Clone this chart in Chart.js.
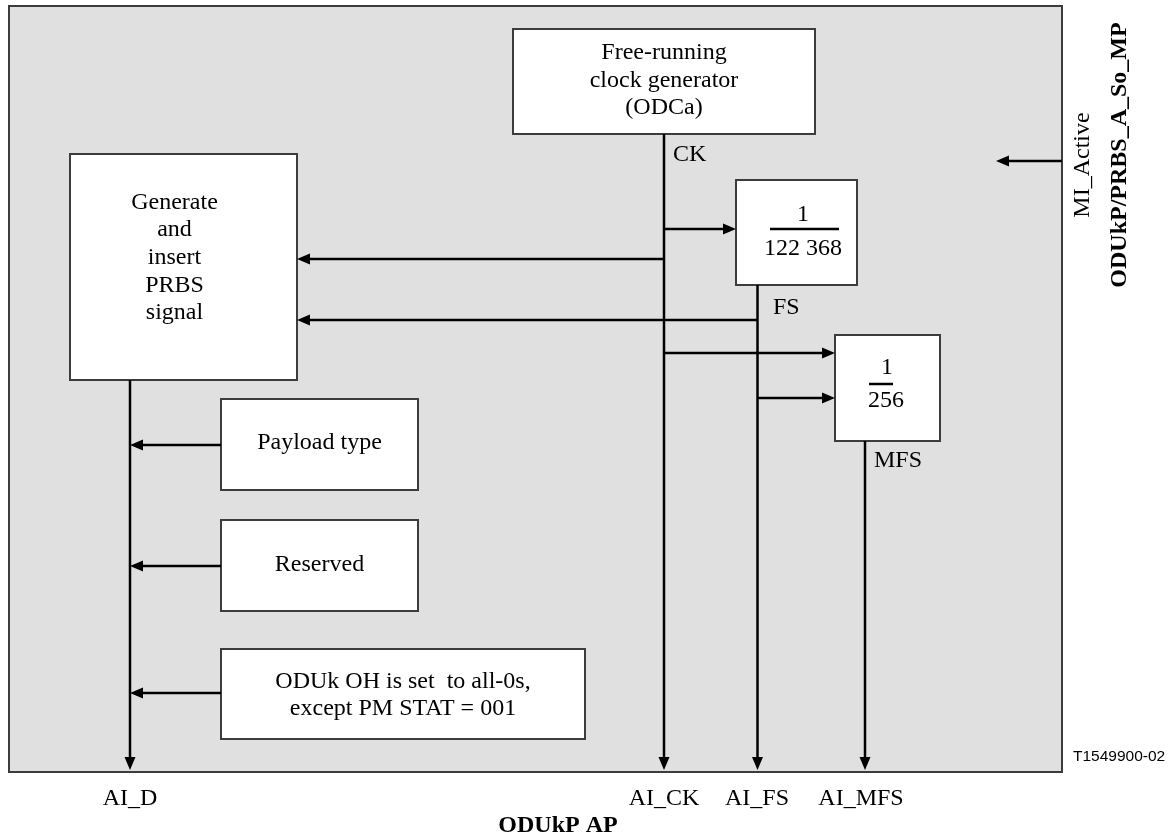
<!DOCTYPE html>
<html>
<head>
<meta charset="utf-8">
<script src="https://cdn.jsdelivr.net/npm/chart.js@4.4.1/dist/chart.umd.min.js"></script>
<style>
  body { margin: 0; background: #fff; }
</style>
</head>
<body>
<canvas id="diagram" width="1173" height="832"></canvas>
<script>
// grey panel of the function (x0, y0, x1, y1 in diagram units)
const panel = [9, 6, 1062, 772];

// blocks inside the panel
const boxRects = [
    [513, 29, 815, 134],   // clock generator
    [70, 154, 297, 380],   // PRBS
    [736, 180, 857, 285],  // 1/122 368
    [835, 335, 940, 441],  // 1/256
    [221, 399, 418, 490],  // payload type
    [221, 520, 418, 611],  // reserved
    [221, 649, 585, 739]   // ODUk OH
];

// signal wires: x0, y0, x1, y1, arrow at end (1) or not (0)
const wires = [
    [664, 134, 664, 770, 1],   // CK
    [664, 229, 736, 229, 1],
    [664, 259, 297, 259, 1],
    [757.5, 285, 757.5, 770, 1], // FS
    [757.5, 320, 297, 320, 1],
    [664, 353, 835, 353, 1],
    [757.5, 398, 835, 398, 1],
    [865, 441, 865, 770, 1],   // MFS
    [130, 380, 130, 770, 1],   // AI_D
    [221, 445, 130, 445, 1],
    [221, 566, 130, 566, 1],
    [221, 693, 130, 693, 1],
    [1062, 161, 996, 161, 1]   // MI_Active
];

// fraction bars in the divider blocks
const bars = [
    [770, 229, 839, 229, 0],
    [869, 384, 893, 384, 0]
];

// texts: string, x, y, bold
const boxTexts = [
    ['Free-running', 664, 53], ['clock generator', 664, 81], ['(ODCa)', 664, 108],
    ['Generate', 174.5, 203], ['and', 174.5, 230], ['insert', 174.5, 258], ['PRBS', 174.5, 286], ['signal', 174.5, 313],
    ['1', 803, 215], ['122 368', 803, 249],
    ['1', 887, 368], ['256', 886, 401],
    ['Payload type', 319.5, 443],
    ['Reserved', 319.5, 565],
    ['ODUk OH is set  to all-0s,', 403, 682], ['except PM STAT = 001', 403, 709],
    ['AI_D', 130, 799], ['AI_CK', 664, 799], ['AI_FS', 757, 799], ['AI_MFS', 861, 799]
];
const sideLabels = [['CK', 673, 155], ['FS', 773, 308], ['MFS', 874, 461]];
const boldTexts = [['ODUkP AP', 558, 826]];
const rotTexts = [['MI_Active', 1083, 165, false], ['ODUkP/PRBS_A_So_MP', 1120, 155, true]];
const figId = ['T1549900-02', 1073, 757];

const SERIF = '"Liberation Serif", "Times New Roman", serif';
const ARROW_LEN = 13, ARROW_HALF = 5.5;

// wire datasets, shortened a little where an arrow head sits
function wireSet(w) {
    let [x0, y0, x1, y1, arrow] = w;
    if (arrow) {
        const len = Math.hypot(x1 - x0, y1 - y0);
        x1 -= (x1 - x0) / len * 8;
        y1 -= (y1 - y0) / len * 8;
    }
    return {
        data: [{x: x0, y: y0}, {x: x1, y: y1}],
        showLine: true,
        borderColor: '#000',
        borderWidth: 2.5,
        pointRadius: 0,
        borderCapStyle: 'butt'
    };
}

const blockPlugin = {
    id: 'blocks',
    beforeDatasetsDraw(chart) {
        const {ctx, scales: {x, y}} = chart;
        ctx.save();
        const px = (r) => [x.getPixelForValue(r[0]), y.getPixelForValue(r[1]), x.getPixelForValue(r[2]), y.getPixelForValue(r[3])];
        let p = px(panel);
        ctx.fillStyle = '#e0e0e0';
        ctx.fillRect(p[0], p[1], p[2] - p[0], p[3] - p[1]);
        ctx.strokeStyle = '#3c3c3c';
        ctx.lineWidth = 2;
        ctx.strokeRect(p[0], p[1], p[2] - p[0], p[3] - p[1]);
        boxRects.forEach(r => {
            p = px(r);
            ctx.fillStyle = '#fff';
            ctx.fillRect(p[0], p[1], p[2] - p[0], p[3] - p[1]);
            ctx.strokeStyle = '#3c3c3c';
            ctx.lineWidth = 2;
            ctx.strokeRect(p[0], p[1], p[2] - p[0], p[3] - p[1]);
        });
        ctx.restore();
    },
    afterDatasetsDraw(chart) {
        const {ctx, scales: {x, y}} = chart;
        ctx.save();
        ctx.fillStyle = '#000';
        // arrow heads
        wires.filter(w => w[4]).forEach(w => {
            const x0 = x.getPixelForValue(w[0]), y0 = y.getPixelForValue(w[1]);
            const x1 = x.getPixelForValue(w[2]), y1 = y.getPixelForValue(w[3]);
            const len = Math.hypot(x1 - x0, y1 - y0);
            const ux = (x1 - x0) / len, uy = (y1 - y0) / len;
            const bx = x1 - ux * ARROW_LEN, by = y1 - uy * ARROW_LEN;
            ctx.beginPath();
            ctx.moveTo(x1, y1);
            ctx.lineTo(bx - uy * ARROW_HALF, by + ux * ARROW_HALF);
            ctx.lineTo(bx + uy * ARROW_HALF, by - ux * ARROW_HALF);
            ctx.closePath();
            ctx.fill();
        });

        // texts
        ctx.textBaseline = 'middle';
        ctx.font = '24px ' + SERIF;
        ctx.textAlign = 'center';
        boxTexts.forEach(t => ctx.fillText(t[0], x.getPixelForValue(t[1]), y.getPixelForValue(t[2])));
        ctx.textAlign = 'left';
        sideLabels.forEach(t => ctx.fillText(t[0], x.getPixelForValue(t[1]), y.getPixelForValue(t[2])));
        ctx.font = 'bold 24px ' + SERIF;
        ctx.textAlign = 'center';
        boldTexts.forEach(t => ctx.fillText(t[0], x.getPixelForValue(t[1]), y.getPixelForValue(t[2])));
        rotTexts.forEach(t => {
            ctx.save();
            ctx.translate(x.getPixelForValue(t[1]), y.getPixelForValue(t[2]));
            ctx.rotate(-Math.PI / 2);
            ctx.font = (t[3] ? 'bold ' : '') + '24px ' + SERIF;
            ctx.fillText(t[0], 0, 0);
            ctx.restore();
        });
        ctx.font = '15.5px "Liberation Sans", Arial, sans-serif';
        ctx.textAlign = 'left';
        ctx.fillText(figId[0], x.getPixelForValue(figId[1]), y.getPixelForValue(figId[2]));
        ctx.restore();
    }
};

const chart = new Chart(document.getElementById('diagram').getContext('2d'), {
    type: 'scatter',
    data: {
        datasets: wires.map(wireSet).concat(bars.map(wireSet))
    },
    options: {
        responsive: false,
        animation: false,
        events: [],
        layout: { padding: 0 },
        plugins: { legend: { display: false }, tooltip: { enabled: false } },
        scales: {
            x: { type: 'linear', min: 0, max: 1173, display: false },
            y: { type: 'linear', min: 0, max: 832, reverse: true, display: false }
        }
    },
    plugins: [blockPlugin]
});
</script>
</body>
</html>
